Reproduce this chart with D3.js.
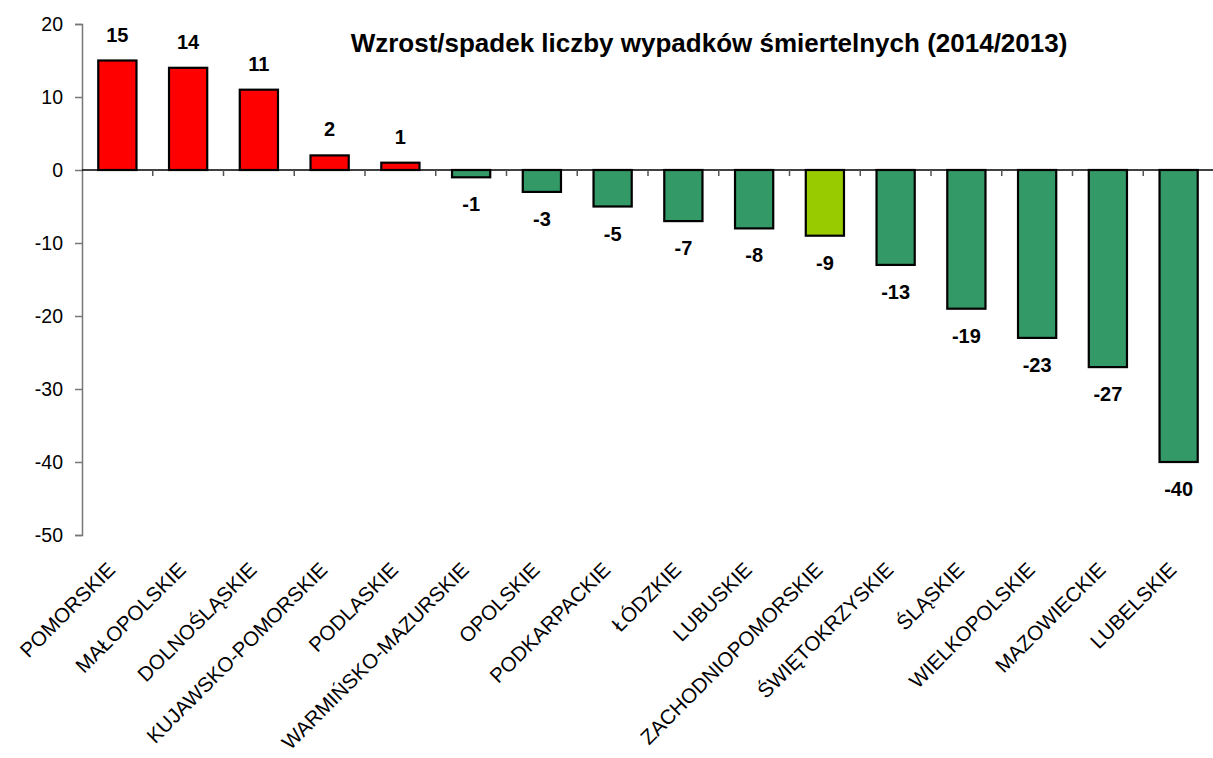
<!DOCTYPE html>
<html>
<head>
<meta charset="utf-8">
<script src="https://cdn.jsdelivr.net/npm/d3@7"></script>
<style>
  html, body { margin: 0; padding: 0; background: #fff; }
  svg { display: block; font-family: Arial, "Liberation Sans", sans-serif; }
</style>
</head>
<body>
<svg id="chart" width="1213" height="758"></svg>
<script>
// Change in the number of fatal accidents per voivodeship, 2014 vs 2013
const regions = [
  "POMORSKIE", "MAŁOPOLSKIE", "DOLNOŚLĄSKIE", "KUJAWSKO-POMORSKIE", "PODLASKIE",
  "WARMIŃSKO-MAZURSKIE", "OPOLSKIE", "PODKARPACKIE", "ŁÓDZKIE", "LUBUSKIE",
  "ZACHODNIOPOMORSKIE", "ŚWIĘTOKRZYSKIE", "ŚLĄSKIE", "WIELKOPOLSKIE", "MAZOWIECKIE", "LUBELSKIE"
];
const changes = [15, 14, 11, 2, 1, -1, -3, -5, -7, -8, -9, -13, -19, -23, -27, -40];
const yTicks = [20, 10, 0, -10, -20, -30, -40, -50];
const highlighted = ["ZACHODNIOPOMORSKIE"];
const title = "Wzrost/spadek liczby wypadków śmiertelnych (2014/2013)";

const colors = { up: "#ff0000", down: "#339966", highlight: "#99cc00" };

const svg = d3.select("#chart");
const plot = { left: 82, right: 1214, top: 24, bottom: 535 };

const x = d3.scaleBand().domain(regions).range([plot.left, plot.right]).paddingInner(0.46).paddingOuter(0.23);
const bands = d3.scaleBand().domain(regions).range([plot.left, plot.right]);
const y = d3.scaleLinear().domain([-50, 20]).range([plot.bottom, plot.top]);

// Y axis (plain hyphen for negatives)
const yAxis = svg.append("g")
  .attr("transform", `translate(${plot.left},0)`)
  .call(d3.axisLeft(y).tickValues(yTicks).tickSize(7).tickPadding(12).tickFormat(d => String(d)));
yAxis.select(".domain").attr("stroke", "#777").attr("stroke-width", 1.5);
yAxis.selectAll(".tick line").attr("stroke", "#777").attr("stroke-width", 1.5);
yAxis.selectAll(".tick text").attr("font-size", 19.5).attr("fill", "#000")
  .attr("font-family", "Arial, 'Liberation Sans', sans-serif");

// Bars
const data = regions.map((r, i) => ({ region: r, value: changes[i] }));
svg.append("g").selectAll("rect").data(data).join("rect")
  .attr("x", d => x(d.region))
  .attr("width", x.bandwidth())
  .attr("y", d => y(Math.max(0, d.value)))
  .attr("height", d => Math.abs(y(d.value) - y(0)))
  .attr("fill", d => highlighted.includes(d.region) ? colors.highlight : (d.value > 0 ? colors.up : colors.down))
  .attr("stroke", "#000")
  .attr("stroke-width", 2.2);

// Zero line with category ticks at band boundaries
const xAxis = svg.append("g").attr("transform", `translate(0,${y(0)})`);
xAxis.append("line")
  .attr("x1", plot.left).attr("x2", plot.right)
  .attr("stroke", "#000").attr("stroke-width", 1.5);
xAxis.selectAll("line.tick").data(regions.slice(1)).join("line")
  .attr("class", "tick")
  .attr("x1", d => bands(d)).attr("x2", d => bands(d))
  .attr("y1", 0).attr("y2", 6)
  .attr("stroke", "#555").attr("stroke-width", 1.5);

// Value labels
svg.append("g").selectAll("text").data(data).join("text")
  .attr("x", d => x(d.region) + x.bandwidth() / 2)
  .attr("y", d => d.value >= 0 ? y(d.value) - 19 : y(d.value) + 34)
  .attr("text-anchor", "middle")
  .attr("font-size", 20)
  .attr("font-weight", "bold")
  .text(d => d.value);

// Category labels, rotated
svg.append("g").selectAll("text").data(regions).join("text")
  .attr("transform", d => `translate(${bands(d) + bands.bandwidth() / 2 - 1},571) rotate(-45)`)
  .attr("text-anchor", "end")
  .attr("font-size", 20.5)
  .text(d => d);

// Title
svg.append("text")
  .attr("x", 709).attr("y", 52)
  .attr("text-anchor", "middle")
  .attr("font-size", 26)
  .attr("font-weight", "bold")
  .text(title);
</script>
</body>
</html>
